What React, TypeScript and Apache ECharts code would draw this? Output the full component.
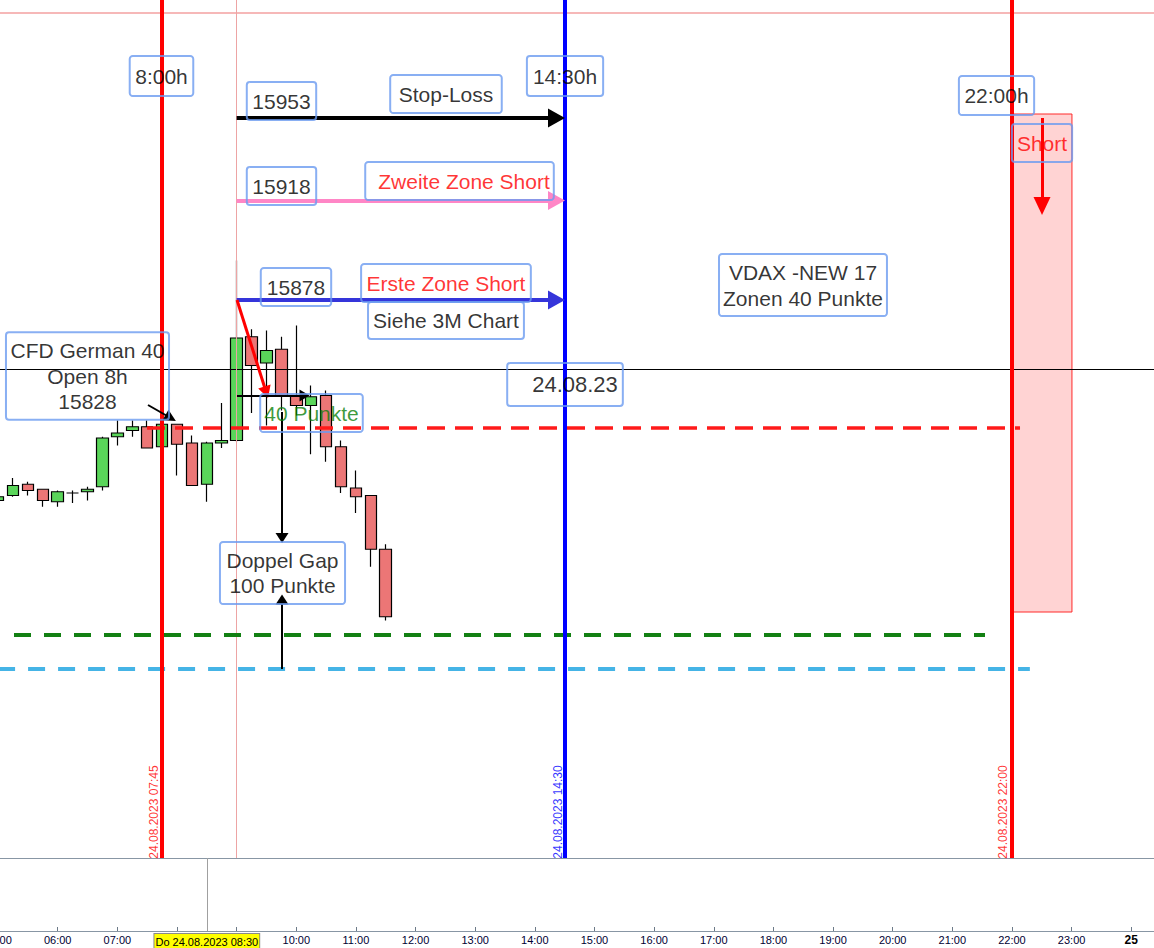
import React, { useEffect, useRef } from "react";
import * as echarts from "echarts";

// ---------- axis range (hours of 24.08.2023, price) ----------
const X_MIN = 5;
const X_MAX = 24.3816;
const Y_MIN = 15656;
const Y_MAX = 15999.2;

// ---------- 15-minute candles ----------
const candleTimes = [
  "05:00", "05:15", "05:30", "05:45", "06:00", "06:15", "06:30", "06:45",
  "07:00", "07:15", "07:30", "07:45", "08:00", "08:15", "08:30", "08:45",
  "09:00", "09:15", "09:30", "09:45", "10:00", "10:15", "10:30", "10:45",
  "11:00", "11:15", "11:30",
];
const candleOpen = [
  15799, 15801, 15805.5, 15803.5, 15798.5, 15802, 15802.5, 15804.5,
  15824.5, 15827, 15828.5, 15820.5, 15829.5, 15822, 15805.5, 15822,
  15823, 15864.5, 15854, 15859.5, 15841, 15837, 15841, 15820.5,
  15804, 15801, 15779.5,
];
const candleClose = [
  15800.5, 15805, 15803, 15799, 15802.5, 15802, 15803.5, 15824,
  15826, 15828.5, 15820, 15829.5, 15821.5, 15805, 15822, 15823,
  15864, 15853, 15859, 15841, 15837, 15840.5, 15820.5, 15804.5,
  15800.5, 15779.5, 15752.5,
];
const candleLow = [
  15798.5, 15800.5, 15801, 15796.5, 15796.5, 15798, 15799, 15803,
  15821, 15824.5, 15820, 15820.5, 15809, 15805, 15798.5, 15820,
  15822.5, 15834, 15829, 15835, 15833, 15817.5, 15814.5, 15802,
  15794, 15772.5, 15751,
];
const candleHigh = [
  15801, 15808, 15806.5, 15803.5, 15803, 15803, 15804.5, 15824.5,
  15831, 15831, 15831, 15830, 15829.5, 15825, 15822.5, 15838,
  15895, 15867.5, 15867, 15864.5, 15869, 15845, 15843, 15823,
  15811, 15801, 15781.5,
];

// ---------- time axis ----------
const hourTicks = [5, 6, 7, 8, 8.5, 9, 10, 11, 12, 13, 14, 15, 16, 17, 18, 19, 20, 21, 22, 23, 24];
const hourLabelValues = [5, 6, 7, 8.5, 10, 11, 12, 13, 14, 15, 16, 17, 18, 19, 20, 21, 22, 23, 24];
const cursorTime = 8.5;
const cursorLabel = "Do 24.08.2023 08:30";
const nextDayLabel = "25";

// ---------- vertical time markers ----------
const sessionLineTimes = [7.75, 14.5, 22.0];
const sessionLineColors = ["#ff0000", "#0000ff", "#ff0000"];
const sessionDateTexts = ["24.08.2023 07:45", "24.08.2023 14:30", "24.08.2023 22:00"];
const sessionDateTimes = [7.606, 14.388, 21.85];
const sessionDatePrice = 15674.4;
const sessionStartTime = 9.0;

// ---------- horizontal levels ----------
const topLevel = 15994;
const crosshairLevel = 15851.6;
const dashedLevels = [15828, 15745.2, 15731.6];
const dashedFrom = [7.497, 5.267, 5.0];
const dashedTo = [22.135, 21.548, 22.3];
const dashedColors = ["#ff1a1a", "#138013", "#45b4e6"];

// ---------- zone arrows (stop-loss, zweite zone, erste zone) ----------
const zonePrices = [15952, 15919, 15879.2];
const zoneColors = ["#000000", "#ff86c6", "#3535da"];
const zoneFrom = 9.0;
const zoneTo = 14.363;

// ---------- other arrows ----------
const arrowFromTime = [9.006, 9.006, 9.761, 9.761, 7.514, 22.504];
const arrowFromPrice = [15879.2, 15841, 15834.4, 15731.6, 15837.2, 15952];
const arrowToTime = [9.496, 10.138, 9.761, 9.761, 7.894, 22.504];
const arrowToPrice = [15842.3, 15841, 15784, 15759.4, 15832, 15916.8];
const arrowColors = ["#ff0000", "#000000", "#000000", "#000000", "#000000", "#ff0000"];

// ---------- short zone ----------
const shortFrom = 22.017;
const shortTo = 23.006;
const shortTop = 15953.6;
const shortBottom = 15754.4;

// ---------- text boxes ----------
const boxTexts = [
  "8:00h", "14:30h", "22:00h", "15953", "Stop-Loss", "15918", "Zweite Zone Short",
  "15878", "Erste Zone Short", "Siehe 3M Chart", "VDAX -NEW 17\nZonen 40 Punkte",
  "24.08.23", "CFD German 40\nOpen 8h\n15828", "40 Punkte", "Doppel Gap\n100 Punkte", "Short",
];
const boxTimes = [
  7.74, 14.506, 21.741, 9.752, 12.51, 9.752, 12.737,
  9.995, 12.51, 12.51, 18.496,
  14.506, 6.4993, 10.255, 9.769, 22.504,
];
const boxPrices = [
  15968.8, 15968.8, 15961, 15958.8, 15961.6, 15924.8, 15926.8,
  15884.4, 15886, 15871, 15885.2,
  15845.4, 15848.8, 15834, 15770, 15942,
];

// styles of the boxes (colour, padding, font size, line height)
const boxStyles: any[] = [
  { color: "#000", padding: [8, 5.5, 8, 5.5] },
  { color: "#000", padding: [8, 6, 8, 6] },
  { color: "#000", padding: [7.5, 5.5, 7.5, 5.5] },
  { color: "#000", padding: [7, 5.5, 7, 5.5] },
  { color: "#000", padding: [7, 8.5, 7, 8.5] },
  { color: "#000", padding: [7, 5.5, 7, 5.5] },
  { color: "#ff0000", padding: [7, 4, 7, 13] },
  { color: "#000", padding: [7, 6, 7, 6] },
  { color: "#ff0000", padding: [7, 5.5, 7, 5.5] },
  { color: "#000", padding: [6.5, 5, 6.5, 5] },
  { color: "#000", padding: [5, 4, 5, 4], lineHeight: 26 },
  { color: "#000", padding: [8, 5, 8, 25], fontSize: 22, lineHeight: 27 },
  { color: "#000", padding: [5.5, 4.5, 5.5, 4.5], lineHeight: 25.5 },
  { color: "#0a800a", padding: [7, 4, 7, 4] },
  { color: "#000", padding: [6, 6.5, 6, 6.5], lineHeight: 25 },
  { color: "#ff0000", padding: [7, 5, 7, 5] },
];

const FONT = "'Liberation Sans', Arial, sans-serif";

function toHours(t: string) {
  const [h, m] = t.split(":").map(Number);
  return h + m / 60;
}

function buildOption() {
  const candleData = candleTimes.map((t, i) => [
    toHours(t), candleOpen[i], candleClose[i], candleLow[i], candleHigh[i],
  ]);

  const lineData: any[] = [];
  lineData.push({ yAxis: topLevel, lineStyle: { color: "#f3a0a0", width: 1.5, type: "solid" } });
  lineData.push({ yAxis: crosshairLevel, lineStyle: { color: "#000", width: 1, type: "solid" } });
  lineData.push({ xAxis: sessionStartTime, lineStyle: { color: "#eda4a4", width: 1, type: "solid" } });
  dashedLevels.forEach((p, i) => {
    lineData.push([
      { coord: [dashedFrom[i], p], lineStyle: { color: dashedColors[i], width: i === 0 ? 3.5 : 4, type: i === 0 ? [18, 10] : [17, 13] } },
      { coord: [dashedTo[i], p] },
    ]);
  });
  sessionLineTimes.forEach((t, i) => {
    lineData.push({ xAxis: t, lineStyle: { color: sessionLineColors[i], width: 4, type: "solid" } });
  });
  zonePrices.forEach((p, i) => {
    lineData.push([
      { coord: [zoneFrom, p], symbol: "none", lineStyle: { color: zoneColors[i], width: 4, type: "solid" } },
      { coord: [zoneTo, p], symbol: "triangle", symbolSize: [19, 17] },
    ]);
  });
  const arrowWidths = [3, 2, 2, 2, 2, 3];
  const arrowHeads = [[13, 12], [12, 10], [13, 10], [13, 10], [12, 12], [17, 18]];
  arrowFromTime.forEach((t, i) => {
    lineData.push([
      { coord: [t, arrowFromPrice[i]], symbol: "none", lineStyle: { color: arrowColors[i], width: arrowWidths[i], type: "solid" } },
      { coord: [arrowToTime[i], arrowToPrice[i]], symbol: "triangle", symbolSize: arrowHeads[i] },
    ]);
  });

  const boxData = boxTexts.map((txt, i) => {
    const st = boxStyles[i];
    return {
      value: [boxTimes[i], boxPrices[i]],
      label: {
        formatter: txt,
        color: st.color,
        padding: st.padding,
        fontSize: st.fontSize || 21,
        lineHeight: st.lineHeight || 24,
      },
    };
  });

  const dateData = sessionDateTexts.map((txt, i) => ({
    value: [sessionDateTimes[i], sessionDatePrice],
    label: { formatter: txt, color: sessionLineColors[i] },
  }));

  const pad2 = (v: number) => (v < 10 ? "0" + v : "" + v) + ":00";

  return {
    animation: false,
    backgroundColor: "#ffffff",
    grid: [
      { left: -1.92, right: 0, top: 0, height: 858, outerBoundsMode: "none", containLabel: false },
      { left: -1.92, right: 0, top: 858, height: 73, outerBoundsMode: "none", containLabel: false },
    ],
    xAxis: [
      {
        type: "value", gridIndex: 0, min: X_MIN, max: X_MAX,
        axisLine: { show: true, lineStyle: { color: "#8896a4", width: 1 } },
        axisTick: { show: false }, axisLabel: { show: false }, splitLine: { show: false },
      },
      {
        type: "value", gridIndex: 1, min: X_MIN, max: X_MAX,
        axisLine: { show: true, lineStyle: { color: "#8896a4", width: 1 } },
        axisTick: { show: true, inside: true, length: 4, customValues: hourTicks, lineStyle: { color: "#6c7a88" } },
        axisLabel: {
          show: true,
          customValues: hourLabelValues,
          margin: 3,
          fontFamily: FONT,
          fontSize: 11,
          color: "#000033",
          formatter: (v: number) => {
            if (v === cursorTime) return "{hl|" + cursorLabel + "}";
            if (v === 24) return "{b|" + nextDayLabel + "}";
            return pad2(v);
          },
          rich: {
            hl: {
              backgroundColor: "#ffff00", borderColor: "#8a8a8a", borderWidth: 1,
              padding: [2, 1, 1, 1], color: "#000", fontSize: 11, fontFamily: FONT,
            },
            b: { fontWeight: "bold", fontSize: 12, color: "#000", fontFamily: FONT },
          },
        },
        splitLine: { show: false },
      },
    ],
    yAxis: [
      { type: "value", gridIndex: 0, min: Y_MIN, max: Y_MAX, show: false, splitLine: { show: false } },
      { type: "value", gridIndex: 1, min: 0, max: 1, show: false, splitLine: { show: false } },
    ],
    series: [
      {
        type: "candlestick",
        xAxisIndex: 0, yAxisIndex: 0,
        data: candleData,
        encode: { x: 0, y: [1, 2, 3, 4] },
        barWidth: 12,
        z: 2,
        itemStyle: {
          color: "#5ad55a", color0: "#ec7676",
          borderColor: "#000", borderColor0: "#000", borderWidth: 1.2,
        },
        silent: true,
        markArea: {
          silent: true,
          data: [[
            { coord: [shortFrom, shortTop], itemStyle: { color: "#ffd3d3", borderColor: "#ff2a2a", borderWidth: 1 } },
            { coord: [shortTo, shortBottom] },
          ]],
          label: { show: false },
        },
      },
      {
        type: "scatter",
        xAxisIndex: 0, yAxisIndex: 0,
        z: 5,
        silent: true,
        symbolSize: 1,
        itemStyle: { color: "rgba(0,0,0,0)" },
        data: boxData,
        label: {
          show: true, position: "inside", fontFamily: FONT,
          backgroundColor: "transparent", borderColor: "#6b9bf0", borderWidth: 1, borderRadius: 3,
          textBorderWidth: 0,
        },
        markLine: {
          silent: true,
          symbol: ["none", "none"],
          label: { show: false },
          emphasis: { disabled: true },
          data: lineData,
        },
      },
      {
        type: "scatter",
        xAxisIndex: 0, yAxisIndex: 0,
        z: 6,
        silent: true,
        symbolSize: 1,
        itemStyle: { color: "rgba(0,0,0,0)" },
        data: dateData,
        label: { show: true, position: "inside", rotate: 90, fontFamily: FONT, fontSize: 12, textBorderWidth: 0 },
      },
      {
        type: "line",
        xAxisIndex: 1, yAxisIndex: 1,
        data: [[X_MIN, 0.5]],
        showSymbol: false,
        lineStyle: { width: 0 },
        silent: true,
        markLine: {
          silent: true,
          symbol: ["none", "none"],
          label: { show: false },
          data: [{ xAxis: cursorTime, lineStyle: { color: "#a0a0a0", width: 1, type: "solid" } }],
        },
      },
    ],
  };
}

export default function App() {
  const ref = useRef<HTMLDivElement>(null);
  useEffect(() => {
    if (!ref.current) return;
    const chart = echarts.init(ref.current, null, { renderer: "svg" });
    chart.setOption(buildOption() as any);
    return () => chart.dispose();
  }, []);
  return (
    <div
      ref={ref}
      style={{ position: "fixed", left: 0, top: 0, width: 1154, height: 948, background: "#fff" }}
    />
  );
}
